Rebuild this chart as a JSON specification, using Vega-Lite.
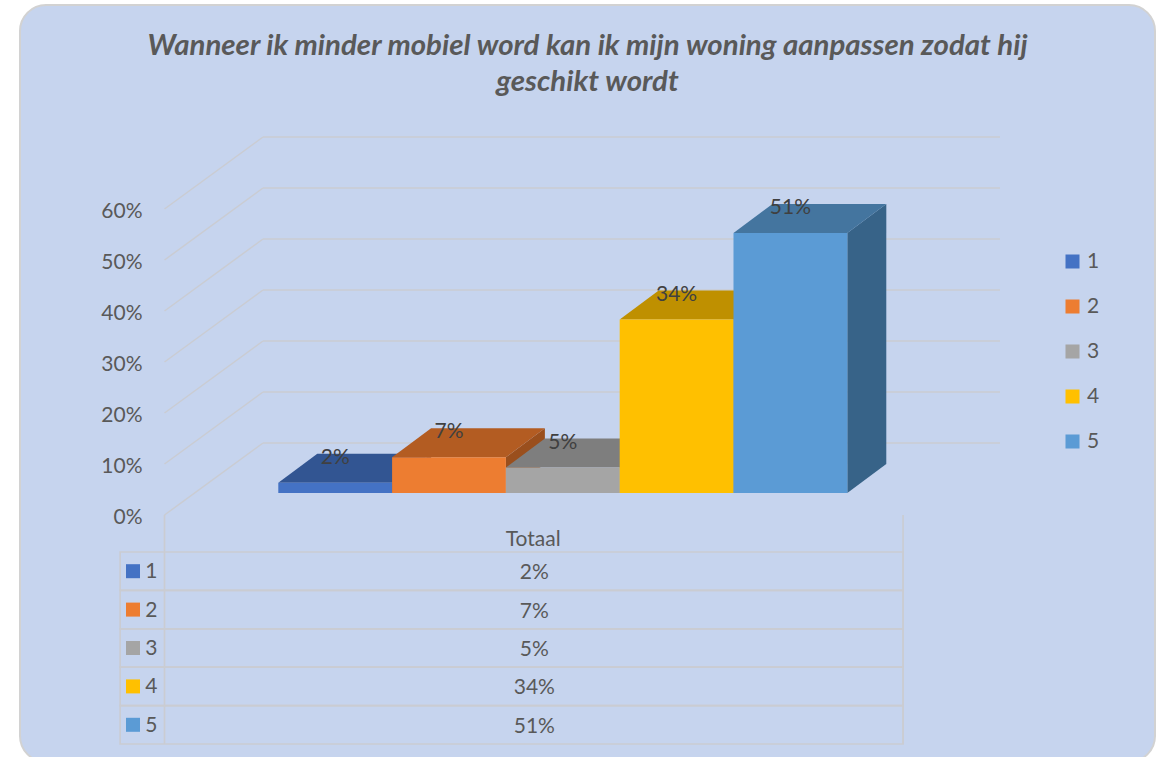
{"$schema":"https://vega.github.io/schema/vega-lite/v6.json","autosize":{"type":"none"},"padding":{"left":20,"top":5,"right":5,"bottom":0},"width":1135,"height":757,"background":"white","view":{"fill":"#C6D4EE","stroke":"#D2D2D2","strokeWidth":2,"cornerRadius":26},"title":{"text":["Wanneer ik minder mobiel word kan ik mijn woning aanpassen zodat hij","geschikt wordt"],"anchor":"middle","font":"Lato","fontSize":29.4,"fontWeight":"bold","fontStyle":"italic","color":"#595959","lineHeight":36,"offset":-92},"datasets":{"bars":[{"cat":"1","value":0.02},{"cat":"2","value":0.07},{"cat":"3","value":0.05},{"cat":"4","value":0.34},{"cat":"5","value":0.51}],"ticks":[{"tick":0},{"tick":0.1},{"tick":0.2},{"tick":0.3},{"tick":0.4},{"tick":0.5},{"tick":0.6}],"head":[{"kop":"Totaal"}]},"resolve":{"scale":{"y":"independent","color":"independent"}},"layer":[{"resolve":{"scale":{"color":"independent"}},"layer":[{"data":{"name":"ticks"},"transform":[{"calculate":"datum.tick+0.1412","as":"back"}],"mark":{"type":"rule","color":"#CACCD2","strokeWidth":1.5},"encoding":{"x":{"datum":0,"type":"quantitative","scale":{"domain":[-1.2698,8.704]},"axis":null},"x2":{"datum":0.8655},"y":{"field":"tick","type":"quantitative","scale":{"domain":[-0.4843,1]},"axis":{"values":[0,0.1,0.2,0.3,0.4,0.5,0.6],"format":".0%","title":null,"domain":false,"ticks":false,"grid":false,"offset":-122,"labelPadding":0,"labelFont":"Lato","labelFontSize":21,"labelColor":"#595959","labelOffset":2}},"y2":{"field":"back"}}},{"data":{"name":"ticks"},"transform":[{"calculate":"datum.tick+0.1412","as":"back"}],"mark":{"type":"rule","color":"#CACCD2","strokeWidth":1.7},"encoding":{"x":{"datum":0.8655,"type":"quantitative","scale":{"domain":[-1.2698,8.704]},"axis":null},"x2":{"datum":7.342},"y":{"field":"back","type":"quantitative","scale":{"domain":[-0.4843,1]}}}},{"data":{"name":"bars"},"transform":[{"calculate":"[0,1]","as":"depth"},{"flatten":["depth"]},{"calculate":"toNumber(datum.cat)+1+datum.depth*0.3427","as":"xs"},{"calculate":"0.0431+datum.depth*0.0569","as":"yb"},{"calculate":"datum.yb+datum.value","as":"yt"}],"mark":{"type":"area"},"encoding":{"x":{"field":"xs","type":"quantitative","scale":{"domain":[-1.2698,8.704]},"axis":null},"y":{"field":"yt","type":"quantitative","scale":{"domain":[-0.4843,1]}},"y2":{"field":"yb"},"color":{"field":"cat","type":"nominal","scale":{"domain":["1","2","3","4","5"],"range":["#2A4576","#9A4F1D","#6A6A6A","#A37B00","#376388"]},"legend":null}}},{"data":{"name":"bars"},"transform":[{"calculate":"[0,1]","as":"depth"},{"flatten":["depth"]},{"calculate":"toNumber(datum.cat)+datum.depth*0.3427","as":"xa"},{"calculate":"datum.xa+1","as":"xb"},{"calculate":"0.0431+datum.value+datum.depth*0.0569","as":"ya"}],"mark":{"type":"area","orient":"horizontal"},"encoding":{"y":{"field":"ya","type":"quantitative","scale":{"domain":[-0.4843,1]}},"x":{"field":"xa","type":"quantitative","scale":{"domain":[-1.2698,8.704]},"axis":null},"x2":{"field":"xb"},"color":{"field":"cat","type":"nominal","scale":{"domain":["1","2","3","4","5"],"range":["#325592","#B35C22","#7E7E7E","#BF9000","#44759F"]},"legend":null}}},{"data":{"name":"bars"},"transform":[{"calculate":"toNumber(datum.cat)","as":"xa"},{"calculate":"datum.xa+1","as":"xb"},{"calculate":"0.0431","as":"yb"},{"calculate":"0.0431+datum.value","as":"yt"}],"mark":{"type":"rect"},"encoding":{"x":{"field":"xa","type":"quantitative","scale":{"domain":[-1.2698,8.704]},"axis":null},"x2":{"field":"xb"},"y":{"field":"yt","type":"quantitative","scale":{"domain":[-0.4843,1]}},"y2":{"field":"yb"},"color":{"field":"cat","type":"nominal","scale":{"domain":["1","2","3","4","5"],"range":["#4472C4","#ED7D31","#A5A5A5","#FFC000","#5B9BD5"]},"legend":{"title":null,"orient":"none","legendX":1042,"legendY":246,"symbolType":"square","symbolSize":196,"symbolStrokeWidth":0,"labelFont":"Lato","labelFontSize":21,"labelColor":"#595959","rowPadding":23,"labelOffset":4}}}},{"data":{"name":"bars"},"transform":[{"calculate":"toNumber(datum.cat)+0.5","as":"xm"},{"calculate":"0.0431+datum.value+0.049","as":"ym"}],"mark":{"type":"text","font":"Lato","fontSize":21,"color":"#404040","baseline":"middle"},"encoding":{"x":{"field":"xm","type":"quantitative","scale":{"domain":[-1.2698,8.704]},"axis":null},"y":{"field":"ym","type":"quantitative","scale":{"domain":[-0.4843,1]}},"text":{"field":"value","format":".0%"}}},{"data":{"name":"head"},"mark":{"type":"text","font":"Lato","fontSize":21,"color":"#595959","baseline":"middle","dy":2},"encoding":{"x":{"datum":3.24,"type":"quantitative","scale":{"domain":[-1.2698,8.704]},"axis":null},"y":{"datum":-0.045,"type":"quantitative","scale":{"domain":[-0.4843,1]}},"text":{"field":"kop"}}},{"data":{"name":"head"},"mark":{"type":"rule","color":"#CACCD2","strokeWidth":1.7},"encoding":{"x":{"datum":0,"type":"quantitative","scale":{"domain":[-1.2698,8.704]},"axis":null},"y":{"datum":0,"type":"quantitative","scale":{"domain":[-0.4843,1]}},"y2":{"datum":-0.449}}},{"data":{"name":"head"},"mark":{"type":"rule","color":"#CACCD2","strokeWidth":1.7},"encoding":{"x":{"datum":6.49,"type":"quantitative","scale":{"domain":[-1.2698,8.704]},"axis":null},"y":{"datum":0,"type":"quantitative","scale":{"domain":[-0.4843,1]}},"y2":{"datum":-0.449}}}]},{"data":{"name":"bars"},"resolve":{"scale":{"color":"independent"}},"layer":[{"mark":{"type":"rect","fill":"transparent","stroke":"#CACCD2","strokeWidth":1.7},"encoding":{"x":{"datum":-0.39,"type":"quantitative","scale":{"domain":[-1.2698,8.704]},"axis":null},"x2":{"datum":6.49},"y":{"field":"cat","type":"nominal","scale":{"type":"band","domain":["1","2","3","4","5"],"range":[547,739],"paddingInner":0,"paddingOuter":0},"axis":null}}},{"mark":{"type":"point","shape":"square","filled":true,"size":196,"opacity":1},"encoding":{"x":{"datum":-0.2768,"type":"quantitative","scale":{"domain":[-1.2698,8.704]},"axis":null},"y":{"field":"cat","type":"nominal","scale":{"type":"band","domain":["1","2","3","4","5"],"range":[547,739],"paddingInner":0,"paddingOuter":0},"axis":null},"color":{"field":"cat","type":"nominal","scale":{"domain":["1","2","3","4","5"],"range":["#4472C4","#ED7D31","#A5A5A5","#FFC000","#5B9BD5"]},"legend":null}}},{"mark":{"type":"text","font":"Lato","fontSize":21,"color":"#595959","baseline":"middle","dy":1},"encoding":{"x":{"datum":-0.115,"type":"quantitative","scale":{"domain":[-1.2698,8.704]},"axis":null},"y":{"field":"cat","type":"nominal","scale":{"type":"band","domain":["1","2","3","4","5"],"range":[547,739],"paddingInner":0,"paddingOuter":0},"axis":null},"text":{"field":"cat"}}},{"mark":{"type":"text","font":"Lato","fontSize":21,"color":"#595959","baseline":"middle","dy":2},"encoding":{"x":{"datum":3.25,"type":"quantitative","scale":{"domain":[-1.2698,8.704]},"axis":null},"y":{"field":"cat","type":"nominal","scale":{"type":"band","domain":["1","2","3","4","5"],"range":[547,739],"paddingInner":0,"paddingOuter":0},"axis":null},"text":{"field":"value","format":".0%"}}}]}]}
